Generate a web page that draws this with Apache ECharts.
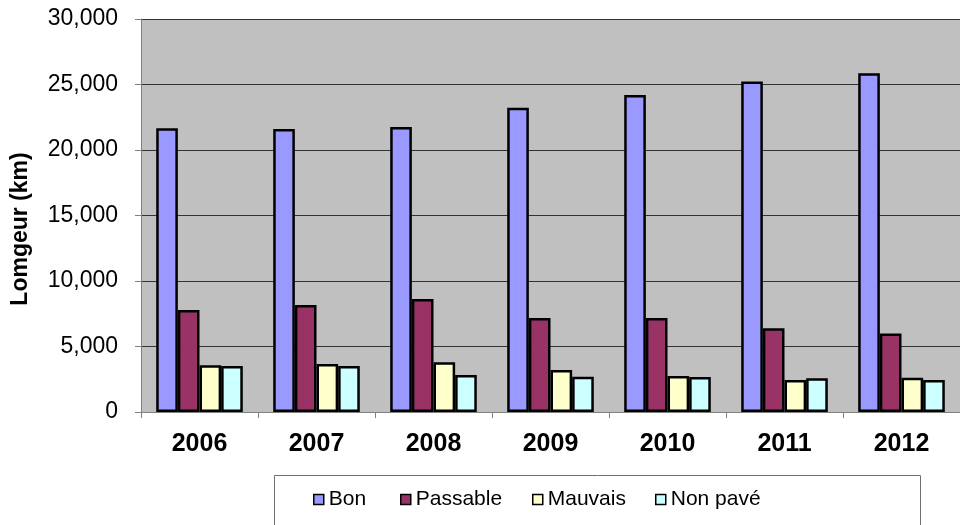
<!DOCTYPE html>
<html>
<head>
<meta charset="utf-8">
<script src="https://cdn.jsdelivr.net/npm/echarts@6/dist/echarts.min.js"></script>
<style>html,body{margin:0;padding:0;background:#fff}#c{width:960px;height:525px}</style>
</head>
<body>
<div id="c"></div>
<script>
var years = ['2006','2007','2008','2009','2010','2011','2012'];
var seriesNames = ['Bon','Passable','Mauvais','Non pavé'];
var bon = [21660, 21600, 21760, 23230, 24200, 25220, 25850];
var passable = [7790, 8170, 8630, 7180, 7180, 6390, 6000];
var mauvais = [3560, 3660, 3790, 3210, 2750, 2440, 2620];
var nonPave = [3510, 3510, 2820, 2700, 2670, 2570, 2440];
var yTicks = [0, 5000, 10000, 15000, 20000, 25000, 30000];
var colors = ['#9999FF', '#993366', '#FFFFCC', '#CCFFFF'];
var values = [bon, passable, mauvais, nonPave];

var chart = echarts.init(document.getElementById('c'), null, {renderer: 'canvas'});
var font = 'Liberation Sans, Arial, sans-serif';
var legendX = [313, 400, 532, 655];

var series = seriesNames.map(function (n, i) {
  return {
    name: n, type: 'bar', data: values[i],
    barGap: '0%', barCategoryGap: '26%',
    itemStyle: {color: colors[i], borderColor: '#000', borderWidth: 2.5},
    emphasis: {disabled: true}
  };
});

chart.setOption({
  animation: false,
  backgroundColor: '#fff',
  grid: {left: 141, right: 0, top: 19, bottom: 113, show: true, backgroundColor: '#C0C0C0', borderWidth: 0},
  xAxis: {
    type: 'category', data: years,
    axisLine: {show: true, lineStyle: {color: '#808080', width: 1}},
    axisTick: {show: true, length: 6, alignWithLabel: false, lineStyle: {color: '#808080'}},
    axisLabel: {fontFamily: font, fontSize: 25, fontWeight: 'bold', color: '#000', margin: 20}
  },
  yAxis: {
    type: 'value', min: yTicks[0], max: yTicks[yTicks.length - 1], interval: 5000,
    axisLine: {show: true, lineStyle: {color: '#808080', width: 1}},
    axisTick: {show: true, length: 6, lineStyle: {color: '#808080'}},
    splitLine: {show: true, lineStyle: {color: '#333333', width: 1.2}},
    axisLabel: {fontFamily: font, fontSize: 23, color: '#000', margin: 23,
      formatter: function (v) { return v.toLocaleString('en-US'); }}
  },
  legend: seriesNames.map(function (n, i) {
    return {
      data: [n], left: legendX[i], top: 489, padding: 0,
      icon: 'rect', itemWidth: 10, itemHeight: 10,
      itemStyle: {borderColor: '#000', borderWidth: 1.5},
      textStyle: {fontFamily: font, fontSize: 21, color: '#000', padding: [0, 0, 0, 0]},
      selectedMode: false
    };
  }),
  graphic: [
    {type: 'rect', z: -1, shape: {x: 274.5, y: 475.5, width: 646, height: 70},
      style: {fill: '#fff', stroke: '#707070', lineWidth: 1}},
    {type: 'text', x: 21, y: 229, rotation: Math.PI / 2,
      style: {text: 'Lomgeur (km)', font: 'bold 23px ' + font, fill: '#000', align: 'center', verticalAlign: 'middle'}}
  ],
  series: series
});
</script>
</body>
</html>
